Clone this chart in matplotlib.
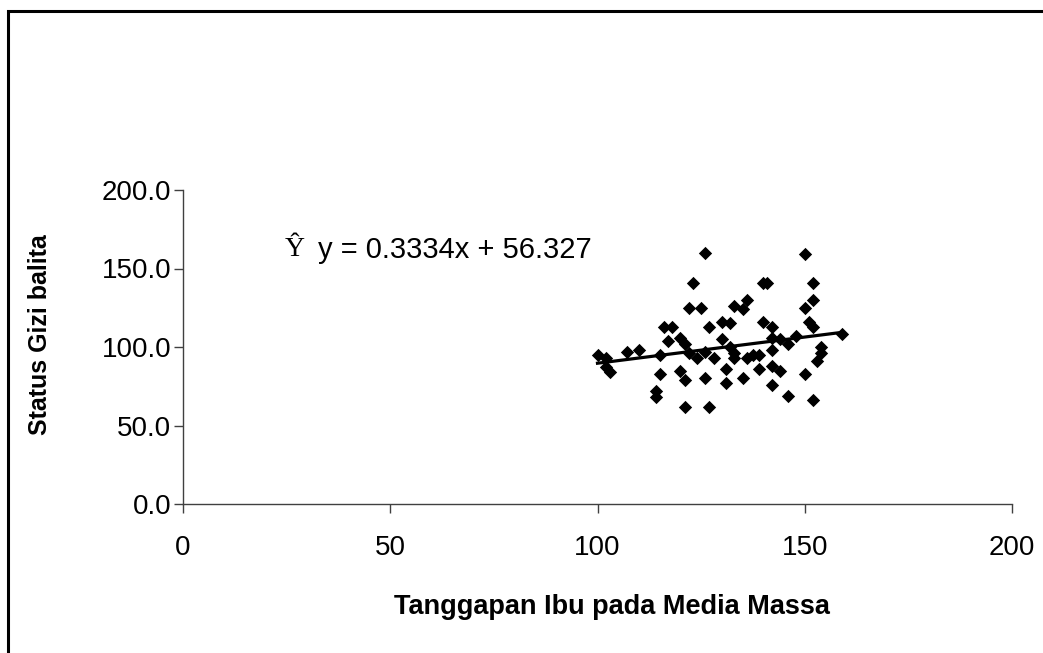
import numpy as np
import matplotlib.pyplot as plt
from matplotlib.patches import Rectangle

plt.rcParams['font.family'] = ['Liberation Sans', 'DejaVu Sans']

# Tanggapan Ibu pada Media Massa (x) vs Status Gizi balita (y)
tanggapan = [126, 123, 122, 125, 116, 118, 127, 130, 117, 120,
             121, 130, 100, 102, 103, 102, 107, 110, 115, 115,
             120, 121, 114, 114, 121, 127, 126, 122, 124, 128,
             126, 131, 131, 150, 140, 141, 152, 152, 150, 136,
             133, 135, 140, 151, 152, 142, 159, 132, 144, 146,
             148, 154, 154, 153, 142, 142, 139, 137.5, 136, 132,
             133, 133, 135, 139, 142, 144, 142, 150, 146, 152]
status_gizi = [160, 141, 125, 125, 113, 113, 113, 116, 104, 106,
               102, 105, 95, 93, 84, 87, 97, 98, 95, 83,
               85, 79, 72, 68, 62, 62, 80, 96, 93, 93,
               97, 86, 77, 159, 141, 141, 141, 130, 125, 130,
               126, 124, 116, 116, 113, 113, 108, 115, 105, 102,
               107, 100, 96, 91, 106, 98, 95, 95, 93, 100,
               96, 93, 80, 86, 88, 85, 76, 83, 69, 66]

slope = 0.3334
intercept = 56.327

x_ticks = [0, 50, 100, 150, 200]
y_ticks = [0, 50, 100, 150, 200]

fig = plt.figure(figsize=(10.43, 6.53), dpi=100)

# outer chart frame
fig.patches.append(Rectangle((8 / 1043, -0.05), 1.2, 1 - 11 / 653 + 0.05,
                             transform=fig.transFigure, fill=False,
                             edgecolor='black', linewidth=2.2, zorder=0))

ax = fig.add_axes([183 / 1043, 1 - 504 / 653, 829 / 1043, 314 / 653])

ax.scatter(tanggapan, status_gizi, marker='D', s=46, color='black',
           linewidths=0, zorder=3)

xs = np.array([min(tanggapan), max(tanggapan)])
ax.plot(xs, slope * xs + intercept, color='black', linewidth=2.3, zorder=4)

ax.set_xlim(0, 200)
ax.set_ylim(0, 200)
ax.set_xticks(x_ticks)
ax.set_yticks(y_ticks)
ax.set_xticklabels([str(t) for t in x_ticks])
ax.set_yticklabels(['%.1f' % t for t in y_ticks])

for s in ['top', 'right']:
    ax.spines[s].set_visible(False)
for s in ['left', 'bottom']:
    ax.spines[s].set_color('#404040')
    ax.spines[s].set_linewidth(1.0)
ax.tick_params(direction='out', length=6.5, width=1.0, color='#404040',
               labelsize=20, pad=2)
ax.tick_params(axis='x', pad=16)

ax.set_xlabel('Tanggapan Ibu pada Media Massa', fontsize=19.5, fontweight='bold')
ax.set_ylabel('Status Gizi balita', fontsize=18, fontweight='bold')
ax.xaxis.set_label_coords(0.5175, -0.287)
ax.yaxis.set_label_coords(-0.158, 0.541)

ax.text(24.6, 161.8, '\u0176', family=['Liberation Serif', 'DejaVu Serif'],
        fontsize=20, va='center', ha='left')
ax.text(32.6, 161.8, 'y = %.4fx + %.3f' % (slope, intercept), fontsize=21,
        va='center', ha='left')

fig.savefig('out.png', dpi=100)
